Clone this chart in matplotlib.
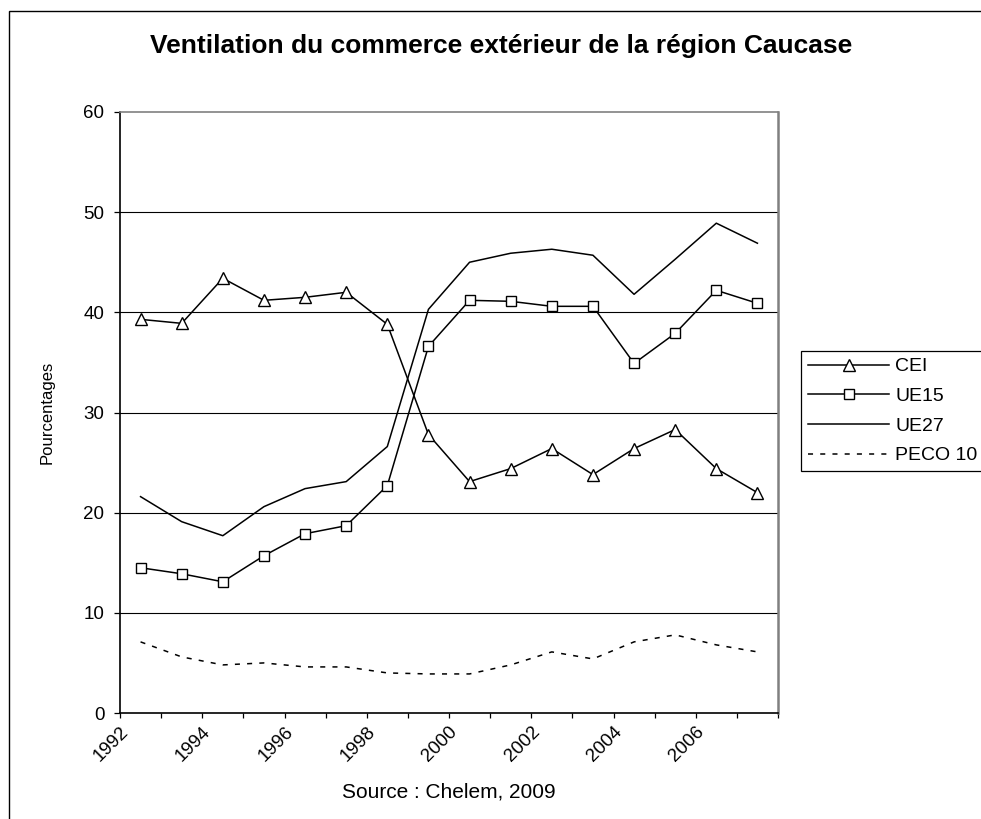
import numpy as np
import matplotlib
matplotlib.use("Agg")
import matplotlib.pyplot as plt
from matplotlib.patches import Rectangle

plt.rcParams['font.family'] = ['Liberation Sans', 'DejaVu Sans']

years = np.arange(1992, 2008)

cei = [39.3, 38.9, 43.4, 41.2, 41.5, 42.0, 38.8, 27.8, 23.1, 24.4, 26.4, 23.8, 26.4, 28.3, 24.4, 22.0]
ue15 = [14.5, 13.9, 13.1, 15.7, 17.9, 18.7, 22.7, 36.6, 41.2, 41.1, 40.6, 40.6, 34.9, 37.9, 42.2, 40.9]
ue27 = [21.6, 19.1, 17.7, 20.6, 22.4, 23.1, 26.6, 40.3, 45.0, 45.9, 46.3, 45.7, 41.8, 45.3, 48.9, 46.9]
peco10 = [7.1, 5.6, 4.8, 5.0, 4.6, 4.6, 4.0, 3.9, 3.9, 4.8, 6.1, 5.4, 7.1, 7.8, 6.8, 6.1]

tick_years = np.arange(1992, 2009)
tick_labels = [str(y) if (y % 2 == 0 and y < 2008) else '' for y in tick_years]

fig = plt.figure(figsize=(9.81, 8.19), dpi=100)
ax = fig.add_axes([120 / 981, 1 - 713 / 819, 658 / 981, 601 / 819])

# points sit in the middle of each year category (excel style)
xpos = years + 0.5
ax.plot(xpos, cei, color='black', lw=1.1, marker='^', markersize=9,
        markerfacecolor='white', markeredgecolor='black', markeredgewidth=1.0, label='CEI')
ax.plot(xpos, ue15, color='black', lw=1.1, marker='s', markersize=7.5,
        markerfacecolor='white', markeredgecolor='black', markeredgewidth=1.0, label='UE15')
ax.plot(xpos, ue27, color='black', lw=1.1, label='UE27')
ax.plot(xpos, peco10, color='black', lw=1.1, linestyle=(0, (3.3, 4.7)), label='PECO 10')

ax.set_xlim(1992, 2008)
ax.set_ylim(0, 60)
ax.set_yticks(np.arange(0, 61, 10))
ax.set_xticks(tick_years)
ax.set_xticklabels(tick_labels, rotation=45, ha='right', va='top', rotation_mode='anchor')
ax.tick_params(axis='x', direction='out', length=3.6, width=0.9, labelsize=13.5, pad=4)
ax.tick_params(axis='y', direction='out', length=4.3, width=0.9, labelsize=13.5, pad=7)

for yv in [10, 20, 30, 40, 50]:
    ax.axhline(yv, color='black', lw=0.8, zorder=0)

ax.spines['left'].set_color('black')
ax.spines['left'].set_linewidth(1.2)
ax.spines['bottom'].set_color('black')
ax.spines['bottom'].set_linewidth(1.2)
ax.spines['top'].set_color('#808080')
ax.spines['top'].set_linewidth(1.2)
ax.spines['right'].set_color('#808080')
ax.spines['right'].set_linewidth(1.8)

ax.set_ylabel('Pourcentages', fontsize=12)
ax.yaxis.set_label_coords((47 - 120) / 658, 0.5)
ax.yaxis.label.set_va('center')

ax.set_xlabel('Source : Chelem, 2009', fontsize=15)
ax.xaxis.set_label_coords(0.5, -(792 - 713) / 601)
ax.xaxis.label.set_va('center')

fig.text(501 / 981, 1 - 46 / 819, 'Ventilation du commerce extérieur de la région Caucase',
         ha='center', va='center', fontsize=19, fontweight='bold')

leg = ax.legend(loc='upper left', bbox_to_anchor=(801 / 981, 1 - 351 / 819),
                bbox_transform=fig.transFigure, borderaxespad=0, fontsize=14,
                frameon=True, fancybox=False, framealpha=1, edgecolor='black',
                handlelength=4.2, handletextpad=0.3, borderpad=0.35, labelspacing=0.62)
leg.get_frame().set_linewidth(0.9)

# outer chart border, cut off on the right and bottom like the source image
fig.patches.append(Rectangle((9 / 981, -0.1), 1.2, 1.1 - 11 / 819, transform=fig.transFigure,
                             fill=False, edgecolor='black', lw=1.0))

plt.savefig('out.png', dpi=100)
